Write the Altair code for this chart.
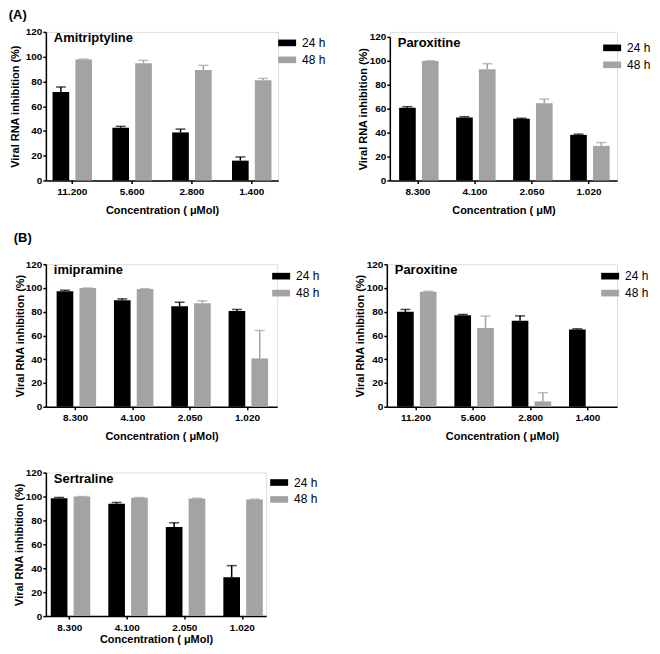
import altair as alt
import pandas as pd

FONT = "Liberation Sans"

time_labels = ["24 h", "48 h"]
bar_colors = ["#000000", "#a3a3a3"]

# (A) Amitriptyline
ami_conc = ["11.200", "5.600", "2.800", "1.400"]
ami_24 = [71.5, 42.6, 38.8, 16.0]
ami_24_err = [4.0, 1.1, 2.7, 3.0]
ami_48 = [97.8, 94.6, 89.2, 80.9]
ami_48_err = [0.3, 2.4, 3.8, 1.6]

# (A) Paroxitine
parA_conc = ["8.300", "4.100", "2.050", "1.020"]
parA_24 = [60.8, 52.7, 51.6, 38.1]
parA_24_err = [0.9, 0.6, 0.5, 0.6]
parA_48 = [99.8, 93.0, 64.5, 28.9]
parA_48_err = [0.2, 4.6, 3.5, 2.8]

# (B) imipramine
imi_conc = ["8.300", "4.100", "2.050", "1.020"]
imi_24 = [97.3, 89.7, 84.7, 80.5]
imi_24_err = [0.8, 1.1, 3.3, 1.4]
imi_48 = [99.9, 99.2, 87.2, 40.7]
imi_48_err = [0.1, 0.2, 2.0, 23.5]

# (B) Paroxitine
parB_conc = ["11.200", "5.600", "2.800", "1.400"]
parB_24 = [79.9, 77.1, 72.3, 65.0]
parB_24_err = [2.0, 0.6, 4.2, 0.6]
parB_48 = [96.7, 66.2, 4.5, 0.0]
parB_48_err = [0.6, 10.1, 7.3, 0.0]

# (B) Sertraline
ser_conc = ["8.300", "4.100", "2.050", "1.020"]
ser_24 = [98.6, 93.9, 74.4, 32.5]
ser_24_err = [0.6, 1.1, 3.6, 9.7]
ser_48 = [99.9, 98.9, 98.3, 97.5]
ser_48_err = [0.1, 0.2, 0.3, 0.3]

y_ticks = [0, 20, 40, 60, 80, 100, 120]


def panel(name, conc, v24, e24, v48, e48, xtitle, w, h, step, legend_x, legend_y,
          title_pad=0, x_title_pad=8, top_gap=0):
    rows = []
    for c, a, ea, b, eb in zip(conc, v24, e24, v48, e48):
        rows.append({"conc": c, "time": time_labels[0], "value": a, "upper": a + ea})
        rows.append({"conc": c, "time": time_labels[1], "value": b, "upper": b + eb})
    df = pd.DataFrame(rows)

    pi = 0.34
    po = ((w - 3 * step) / 2 - step * (1 - pi) / 2) / step
    x = alt.X(
        "conc:N", sort=conc,
        scale=alt.Scale(paddingInner=pi, paddingOuter=po),
        axis=alt.Axis(
            title=xtitle, labelAngle=0, domainColor="black", domainWidth=1.5,
            tickColor="black", tickWidth=1.5, tickSize=3,
            labelFont=FONT, labelFontSize=10, labelFontWeight="bold", labelColor="black",
            labelPadding=3, titleFont=FONT, titleFontSize=11, titleFontWeight="bold",
            titleColor="black", titlePadding=x_title_pad,
        ),
    )
    xo = alt.XOffset("time:N", sort=time_labels, scale=alt.Scale(paddingInner=0.27))
    cscale = alt.Scale(domain=time_labels, range=bar_colors)
    yscale = alt.Scale(domain=[0, 120], nice=False, range=[h, top_gap])
    yaxis = alt.Axis(
        title="Viral RNA inhibition (%)", values=y_ticks, grid=False,
        labelOverlap=False,
        domainColor="black", domainWidth=1.5, tickColor="black", tickWidth=1.5,
        tickSize=3, labelFont=FONT, labelFontSize=10, labelFontWeight="bold",
        labelColor="black", labelPadding=1, titleFont=FONT, titleFontSize=11,
        titleFontWeight="bold", titleColor="black", titlePadding=title_pad,
    )
    base = alt.Chart(df)
    bars = base.mark_bar().encode(
        x=x, xOffset=xo,
        y=alt.Y("value:Q", scale=yscale, axis=yaxis),
        color=alt.Color(
            "time:N", scale=cscale,
            legend=alt.Legend(
                title=None, orient="none", legendX=legend_x, legendY=legend_y,
                symbolType="M-1,-0.37H1V0.37H-1Z", symbolSize=324,
                symbolStrokeWidth=0, symbolOpacity=1, labelFont=FONT, labelFontSize=12,
                labelColor="black", labelOffset=6, rowPadding=2,
            ),
        ),
    )
    err = base.transform_filter("datum.value > 0")
    rule = err.mark_rule(strokeWidth=1.5).encode(
        x=x, xOffset=xo,
        y=alt.Y("value:Q", scale=yscale, axis=yaxis), y2="upper:Q",
        color=alt.Color("time:N", scale=cscale, legend=None),
    )
    cap = err.mark_tick(thickness=1.5, size=10).encode(
        x=x, xOffset=xo,
        y=alt.Y("upper:Q", scale=yscale, axis=yaxis),
        color=alt.Color("time:N", scale=cscale, legend=None),
    )
    label = alt.Chart(pd.DataFrame({"t": [name]})).mark_text(
        align="left", baseline="top", font=FONT, fontSize=13, fontWeight="bold",
        color="black",
    ).encode(x=alt.value(8), y=alt.value(top_gap), text="t:N")
    return alt.layer(bars, rule, cap, label).properties(width=w, height=h)


p1 = panel("Amitriptyline", ami_conc, ami_24, ami_24_err, ami_48, ami_48_err,
           "Concentration ( \u03bcMol)", 233, 149, 60, 233, 2, title_pad=5)
p2 = panel("Paroxitine", parA_conc, parA_24, parA_24_err, parA_48, parA_48_err,
           "Concentration ( \u03bcM)", 228, 149, 57.2, 214, 7, title_pad=1,
           top_gap=5)
p3 = panel("imipramine", imi_conc, imi_24, imi_24_err, imi_48, imi_48_err,
           "Concentration ( \u03bcMol)", 232, 143, 57.5, 227, 3, title_pad=0)
p4 = panel("Paroxitine", parB_conc, parB_24, parB_24_err, parB_48, parB_48_err,
           "Concentration ( \u03bcMol)", 231, 143, 57.5, 215, 3, title_pad=1)
p5 = panel("Sertraline", ser_conc, ser_24, ser_24_err, ser_48, ser_48_err,
           "Concentration ( \u03bcMol)", 221, 144, 57.7, 225, 1, title_pad=1,
           x_title_pad=1)

row1 = alt.hconcat(p1, p2, spacing=29).resolve_scale(color="independent", x="independent")
row2 = alt.hconcat(p3, p4, spacing=32).resolve_scale(color="independent", x="independent").properties(
    title=alt.Title("(B)", anchor="start", font=FONT, fontSize=13, fontWeight="bold",
                    color="black", offset=14)
)
row3 = alt.hconcat(p5).resolve_scale(color="independent")
lower = alt.vconcat(row2, row3, spacing=24).resolve_scale(color="independent", x="independent")

chart = alt.vconcat(row1, lower, spacing=15).resolve_scale(
    color="independent", x="independent"
).properties(
    padding=0,
    title=alt.Title("(A)", anchor="start", font=FONT, fontSize=13, fontWeight="bold",
                    color="black", offset=4),
).configure_view(stroke=None).configure(font=FONT)

chart.save("out.html", embed_options={"renderer": "svg", "actions": False})
